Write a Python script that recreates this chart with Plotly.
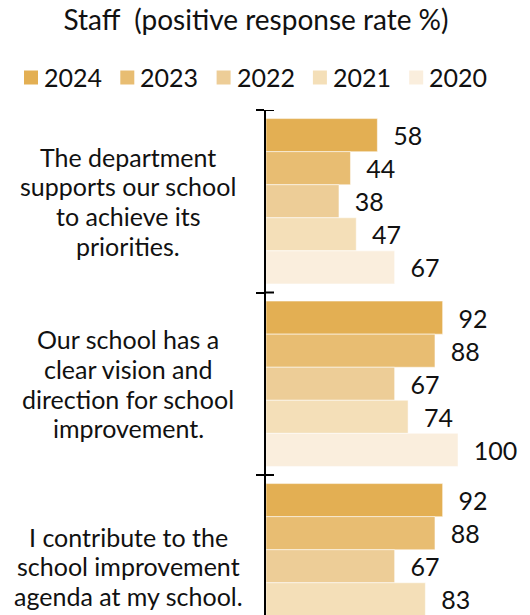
import plotly.graph_objects as go

# Survey statements (one group of bars each) and yearly results
questions = [
    "The department<br>supports our school<br>to achieve its<br>priorities.",
    "Our school has a<br>clear vision and<br>direction for school<br>improvement.",
    "I contribute to the<br>school improvement<br>agenda at my school.",
]
years = ["2024", "2023", "2022", "2021", "2020"]
v2024 = [58, 92, 92]
v2023 = [44, 88, 88]
v2022 = [38, 67, 67]
v2021 = [47, 74, 83]
v2020 = [67, 100, None]
series = [v2024, v2023, v2022, v2021, v2020]
colors = ["#E3AF53", "#E8BD72", "#EDCD97", "#F4DFB8", "#FAEEDD"]

FONT = "Lato"
INK = "#111111"
TXT = 25
W, H = 530, 615
ML, MR, MT, MB = 266, 0, 110, 0
PX_PER_UNIT = 1.92
GROUP_PX = 182.5
LINE_PX = 29.7
TICK_LEN = 8
plot_w = W - ML - MR
plot_h = H - MT - MB


def px_x(px):
    return (px - ML) / plot_w


def px_y(py):
    return 1 + (MT - py) / plot_h


fig = go.Figure()
for year, vals, col in zip(years, series, colors):
    fig.add_trace(go.Bar(
        name=year,
        y=questions,
        x=vals,
        orientation="h",
        marker=dict(color=col, line=dict(color="rgba(255,255,255,0.5)", width=1)),
        text=vals,
        texttemplate="\u00a0\u00a0%{x}",
        textposition="outside",
        textfont=dict(family=FONT, size=TXT, color=INK),
        constraintext="none",
        cliponaxis=False,
        showlegend=False,
        hoverinfo="skip",
    ))

y_range = [-0.5 + plot_h / GROUP_PX, -0.5]
# category boundaries (between statement groups)
boundaries = [i - 0.5 for i in range(len(questions) + 1)]

shapes = []
# right-hand half of the boundary ticks, so they cross the axis line
for b in boundaries:
    shapes.append(dict(
        type="line", xref="paper", yref="y",
        xsizemode="pixel", xanchor=0, x0=0, x1=TICK_LEN,
        y0=b, y1=b, line=dict(color="black", width=2),
    ))

annotations = []
# statement labels, centred to the left of the axis, one line at a time
for q in questions:
    lines = q.split("<br>")
    n = len(lines)
    for j, line in enumerate(lines):
        annotations.append(dict(
            x=px_x(128), xref="paper", xanchor="center",
            y=q, yref="y", yanchor="middle",
            yshift=((n - 1) / 2 - j) * LINE_PX,
            text=line, showarrow=False, align="center",
            font=dict(family=FONT, size=TXT, color=INK),
        ))

# legend row: coloured square followed by the year
for i, (year, col) in enumerate(zip(years, colors)):
    x0 = 24 + 96.3 * i
    shapes.append(dict(
        type="rect", xref="paper", yref="paper",
        x0=px_x(x0), x1=px_x(x0 + 14),
        y0=px_y(84.5), y1=px_y(70.5),
        fillcolor=col, line=dict(width=0),
    ))
    annotations.append(dict(
        x=px_x(x0 + 18), xref="paper", xanchor="left",
        y=px_y(77.5), yref="paper", yanchor="middle",
        text=year, showarrow=False,
        font=dict(family=FONT, size=TXT, color=INK),
    ))

fig.update_layout(
    width=W, height=H,
    margin=dict(l=ML, r=MR, t=MT, b=MB),
    paper_bgcolor="white", plot_bgcolor="white",
    barmode="group", bargap=0.094, bargroupgap=0,
    title=dict(
        text="Staff\u00a0\u00a0(positive response rate %)",
        x=256 / W, xanchor="center",
        y=1 - 20 / H, yanchor="middle", yref="container",
        font=dict(family=FONT, size=28, color=INK),
    ),
    xaxis=dict(visible=False, range=[0, plot_w / PX_PER_UNIT], fixedrange=True),
    yaxis=dict(
        type="category", range=y_range,
        showticklabels=False, showgrid=False, zeroline=False,
        showline=True, linecolor="black", linewidth=2,
        ticks="outside", tickson="boundaries", ticklen=TICK_LEN, tickwidth=2,
        tickcolor="black",
    ),
    annotations=annotations,
    shapes=shapes,
)

fig.write_html("out.html")
